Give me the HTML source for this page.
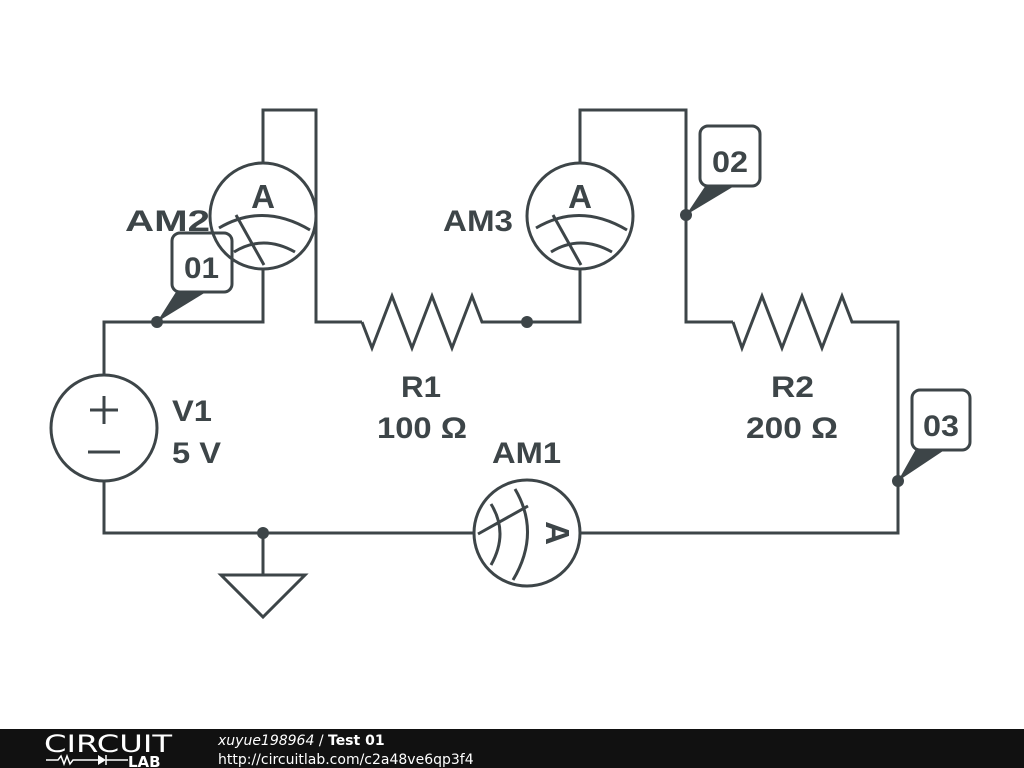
<!DOCTYPE html>
<html><head><meta charset="utf-8"><style>
html,body{margin:0;padding:0;background:#fff;width:1024px;height:768px;overflow:hidden}
svg{display:block}
text{font-family:"Liberation Sans",sans-serif;font-weight:bold;fill:#3d4548}
.f{font-family:"DejaVu Sans",sans-serif}
</style></head><body>
<svg width="1024" height="768" viewBox="0 0 1024 768">
<g stroke="#3d4548" stroke-width="3" fill="none" stroke-linejoin="miter">
<polyline points="104,375 104,322 263,322 263,269"/>
<polyline points="263,163 263,110 316,110 316,322 362,322"/>
<polyline points="362,322 372,348 392,296 412,348 432,296 452,348 472,296 482,322 580,322 580,269"/>
<polyline points="580,163 580,110 686,110 686,322 733,322"/>
<polyline points="733,322 742,348 762,296 782,348 802,296 822,348 842,296 852,322 898,322 898,533 580,533"/>
<polyline points="474,533 104,533 104,482"/>
<line x1="263" y1="533" x2="263" y2="575"/>
<polygon points="221,575 305,575 263,617"/>
<circle cx="104" cy="428" r="53"/>
<line x1="90" y1="410" x2="118" y2="410"/><line x1="104" y1="396" x2="104" y2="424"/>
<line x1="88" y1="452" x2="120" y2="452"/>
<circle cx="263" cy="216" r="53"/>
<path d="M219,228 Q263,202 310,230"/><path d="M234,252 Q263,234 295,252"/>
<line x1="236" y1="215" x2="264" y2="265"/>
<circle cx="580" cy="216" r="53"/>
<path d="M536,228 Q580,202 627,230"/><path d="M551,252 Q580,234 612,252"/>
<line x1="553" y1="215" x2="581" y2="265"/>
<circle cx="527" cy="533" r="53"/>
<g transform="rotate(90 527 533)">
<path d="M483,545 Q527,519 574,547"/><path d="M498,569 Q527,551 559,569"/>
<line x1="500" y1="532" x2="528" y2="582"/>
</g>
<rect x="172" y="233" width="60" height="59" rx="8"/>
<rect x="700" y="126" width="60" height="60" rx="8"/>
<rect x="912" y="390" width="58" height="60" rx="8"/>
</g>
<g fill="#3d4548">
<circle cx="157" cy="322" r="6"/><circle cx="527" cy="322" r="6"/><circle cx="686" cy="215" r="6"/>
<circle cx="898" cy="481" r="6"/><circle cx="263" cy="533" r="6"/>
<polygon points="176,292 206,292 157,322"/>
<polygon points="706,185 736,185 686,215"/>
<polygon points="916,449 946,449 898,481"/>
</g>
<text x="263" y="208" font-size="33" text-anchor="middle">A</text>
<text x="580" y="208" font-size="33" text-anchor="middle">A</text>
<text x="0" y="0" font-size="33" text-anchor="middle" transform="translate(546,533) rotate(90)">A</text>
<text x="125" y="231" font-size="30" textLength="85" lengthAdjust="spacingAndGlyphs">AM2</text>
<text x="443" y="231" font-size="30" textLength="70" lengthAdjust="spacingAndGlyphs">AM3</text>
<text x="492" y="463" font-size="30" textLength="69" lengthAdjust="spacingAndGlyphs">AM1</text>
<text x="172" y="421" font-size="30" textLength="40" lengthAdjust="spacingAndGlyphs">V1</text>
<text x="172" y="463" font-size="30" textLength="49" lengthAdjust="spacingAndGlyphs">5 V</text>
<text x="401" y="397" font-size="30" textLength="40" lengthAdjust="spacingAndGlyphs">R1</text>
<text x="377" y="438" font-size="30" textLength="90" lengthAdjust="spacingAndGlyphs">100 Ω</text>
<text x="771" y="397" font-size="30" textLength="43" lengthAdjust="spacingAndGlyphs">R2</text>
<text x="746" y="438" font-size="30" textLength="92" lengthAdjust="spacingAndGlyphs">200 Ω</text>
<text x="184" y="278" font-size="30" textLength="35" lengthAdjust="spacingAndGlyphs">01</text>
<text x="712" y="172" font-size="30" textLength="36" lengthAdjust="spacingAndGlyphs">02</text>
<text x="923" y="436" font-size="30" textLength="36" lengthAdjust="spacingAndGlyphs">03</text>
<rect x="0" y="729" width="1024" height="39" fill="#111"/>
<text x="44" y="752" font-size="24" class="f" style="font-weight:normal;fill:#fff" textLength="128" lengthAdjust="spacingAndGlyphs">CIRCUIT</text>
<polyline points="46,760 58,760 61,756 64,764 67,756 70,764 73,760 98,760" stroke="#fff" stroke-width="1.5" fill="none"/>
<polygon points="98,755 98,765 106,760" fill="#fff"/>
<line x1="106" y1="755" x2="106" y2="765" stroke="#fff" stroke-width="1.5"/>
<line x1="106" y1="760" x2="128" y2="760" stroke="#fff" stroke-width="1.5"/>
<text x="128" y="767" font-size="15" class="f" style="fill:#fff">LAB</text>
<text x="218" y="745" font-size="14" class="f" style="font-weight:normal;fill:#fff;font-style:italic">xuyue198964 <tspan style="font-style:normal">/</tspan> <tspan style="font-weight:bold;font-style:normal">Test 01</tspan></text>
<text x="218" y="764" font-size="14" class="f" style="font-weight:normal;fill:#fff">http://circuitlab.com/c2a48ve6qp3f4</text>
</svg>
</body></html>
